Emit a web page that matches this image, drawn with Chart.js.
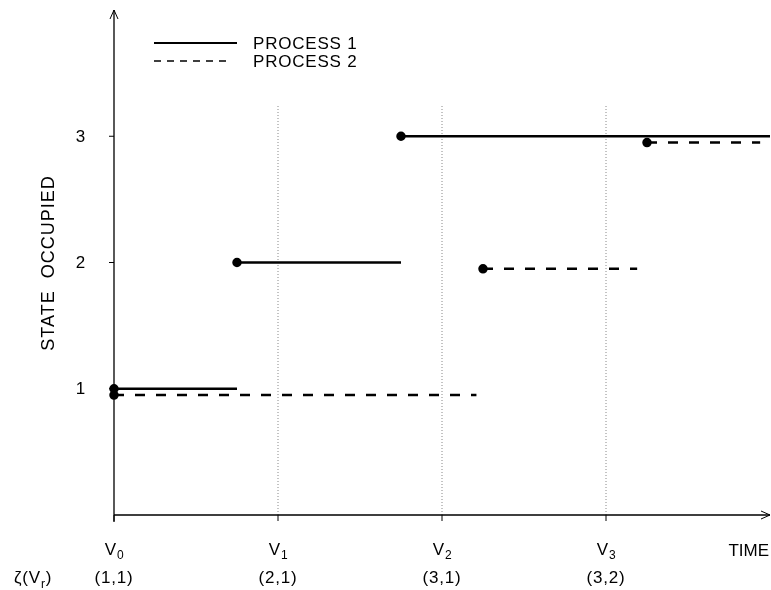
<!DOCTYPE html>
<html>
<head>
<meta charset="utf-8">
<script src="https://cdn.jsdelivr.net/npm/chart.js@4/dist/chart.umd.min.js"></script>
<style>
  body { margin: 0; background: #fff; overflow: hidden; }
</style>
</head>
<body>
<canvas id="stateChart" width="771" height="590"></canvas>
<script>
// Segments: start time, end time, state
const p1Start = [0, 0.75, 1.75];
const p1End = [0.75, 1.75, 4.0];
const p1State = [1, 2, 3];
const p2Start = [0, 2.25, 3.25];
const p2End = [2.21, 3.19, 3.94];
const p2State = [0.95, 1.95, 2.95];

// Axis labels
const yTicks = [1, 2, 3];
const timeMarks = [0, 1, 2, 3];
const timeSubs = ['0', '1', '2', '3'];
const zetaLabels = ['(1,1)', '(2,1)', '(3,1)', '(3,2)'];
const dottedTop = 3.25;

const FONT = '"Liberation Sans", Arial, sans-serif';

// Build one line dataset per process, with gaps between segments
function buildSegments(starts, ends, states) {
    const pts = [];
    const radii = [];
    for (let i = 0; i < starts.length; i++) {
        pts.push({ x: starts[i], y: states[i] });
        radii.push(3.5);
        pts.push({ x: ends[i], y: states[i] });
        radii.push(0);
        pts.push({ x: ends[i], y: null });
        radii.push(0);
    }
    return { pts, radii };
}

const seg1 = buildSegments(p1Start, p1End, p1State);
const seg2 = buildSegments(p2Start, p2End, p2State);

// Dotted verticals at V1..V3
const dotted = [];
timeMarks.slice(1).forEach(t => {
    dotted.push({ x: t, y: 0 }, { x: t, y: dottedTop }, { x: t, y: null });
});

// Draws axes with arrows, ticks, labels and the legend
const decorations = {
    id: 'decorations',
    afterDatasetsDraw(chart) {
        const ctx = chart.ctx;
        const xs = chart.scales.x;
        const ys = chart.scales.y;
        const x0 = xs.getPixelForValue(0);
        const y0 = ys.getPixelForValue(0);
        const topY = ys.getPixelForValue(4);
        const rightX = xs.getPixelForValue(4);
        ctx.save();
        ctx.strokeStyle = '#000';
        ctx.fillStyle = '#000';
        ctx.lineWidth = 1.3;

        // axes
        ctx.beginPath();
        ctx.moveTo(x0, y0 + 7);
        ctx.lineTo(x0, topY);
        ctx.moveTo(x0, y0);
        ctx.lineTo(rightX, y0);
        ctx.stroke();

        // arrowheads
        ctx.lineWidth = 1;
        ctx.beginPath();
        ctx.moveTo(x0 - 4, topY + 9);
        ctx.lineTo(x0, topY);
        ctx.lineTo(x0 + 4, topY + 9);
        ctx.moveTo(rightX - 9, y0 - 4);
        ctx.lineTo(rightX, y0);
        ctx.lineTo(rightX - 9, y0 + 4);
        ctx.stroke();

        ctx.letterSpacing = '0.8px';

        // y ticks and labels
        ctx.font = '17px ' + FONT;
        ctx.textAlign = 'center';
        ctx.textBaseline = 'middle';
        yTicks.forEach(v => {
            const py = ys.getPixelForValue(v);
            ctx.beginPath();
            ctx.moveTo(x0 - 5, py);
            ctx.lineTo(x0, py);
            ctx.stroke();
            ctx.fillText(String(v), x0 - 33, py + 1);
        });

        // x ticks, V labels with subscripts, zeta labels
        ctx.textBaseline = 'alphabetic';
        timeMarks.forEach((t, i) => {
            const px = xs.getPixelForValue(t);
            ctx.beginPath();
            ctx.moveTo(px, y0);
            ctx.lineTo(px, y0 + 6);
            ctx.stroke();
            ctx.font = '17px ' + FONT;
            ctx.textAlign = 'right';
            ctx.fillText('V', px + 3, 555);
            ctx.font = '12px ' + FONT;
            ctx.textAlign = 'left';
            ctx.fillText(timeSubs[i], px + 3, 559);
            ctx.font = '17px ' + FONT;
            ctx.textAlign = 'center';
            ctx.fillText(zetaLabels[i], px, 583);
        });

        ctx.letterSpacing = '0px';
        ctx.textAlign = 'right';
        ctx.fillText('TIME', 769, 556);
        ctx.letterSpacing = '0.8px';

        // zeta(V_r)
        ctx.textAlign = 'left';
        ctx.font = '17px ' + FONT;
        ctx.fillText('\u03B6(V', 14, 583);
        const w = ctx.measureText('\u03B6(V').width;
        ctx.font = '12px ' + FONT;
        ctx.fillText('r', 14 + w, 588);
        const w2 = ctx.measureText('r').width;
        ctx.font = '17px ' + FONT;
        ctx.fillText(')', 14 + w + w2, 583);

        // y axis title
        ctx.save();
        ctx.translate(49, 263);
        ctx.rotate(-Math.PI / 2);
        ctx.textAlign = 'center';
        ctx.textBaseline = 'middle';
        ctx.font = '18px ' + FONT;
        ctx.letterSpacing = '1px';
        ctx.fillText('STATE  OCCUPIED', 0, 0);
        ctx.restore();

        // legend
        ctx.lineWidth = 2;
        ctx.beginPath();
        ctx.moveTo(154, 43);
        ctx.lineTo(237, 43);
        ctx.stroke();
        ctx.setLineDash([7, 6]);
        ctx.lineWidth = 1.5;
        ctx.beginPath();
        ctx.moveTo(154, 61);
        ctx.lineTo(232, 61);
        ctx.stroke();
        ctx.setLineDash([]);
        ctx.textAlign = 'left';
        ctx.textBaseline = 'middle';
        ctx.font = '17px ' + FONT;
        ctx.fillText('PROCESS 1', 253, 44);
        ctx.fillText('PROCESS 2', 253, 62);
        ctx.restore();
    }
};

const chart = new Chart(document.getElementById('stateChart'), {
    type: 'scatter',
    data: {
        datasets: [
            {
                label: 'PROCESS 1',
                data: seg1.pts,
                showLine: true,
                spanGaps: false,
                borderColor: '#000',
                backgroundColor: '#000',
                borderWidth: 2.5,
                pointRadius: seg1.radii,
                pointHoverRadius: 0,
                clip: false
            },
            {
                label: 'PROCESS 2',
                data: seg2.pts,
                showLine: true,
                spanGaps: false,
                borderColor: '#000',
                backgroundColor: '#000',
                borderWidth: 2.5,
                borderDash: [10, 11],
                pointRadius: seg2.radii,
                pointHoverRadius: 0,
                clip: false
            },
            {
                label: 'grid',
                data: dotted,
                showLine: true,
                spanGaps: false,
                borderColor: '#888',
                borderWidth: 1,
                borderDash: [1, 2],
                pointRadius: 0,
                clip: false
            }
        ]
    },
    options: {
        responsive: false,
        animation: false,
        layout: { autoPadding: false, padding: { left: 114, right: 1, top: 10, bottom: 75 } },
        scales: {
            x: { type: 'linear', min: 0, max: 4, display: false },
            y: { type: 'linear', min: 0, max: 4, display: false }
        },
        plugins: {
            legend: { display: false },
            tooltip: { enabled: false }
        }
    },
    plugins: [decorations]
});
</script>
</body>
</html>
